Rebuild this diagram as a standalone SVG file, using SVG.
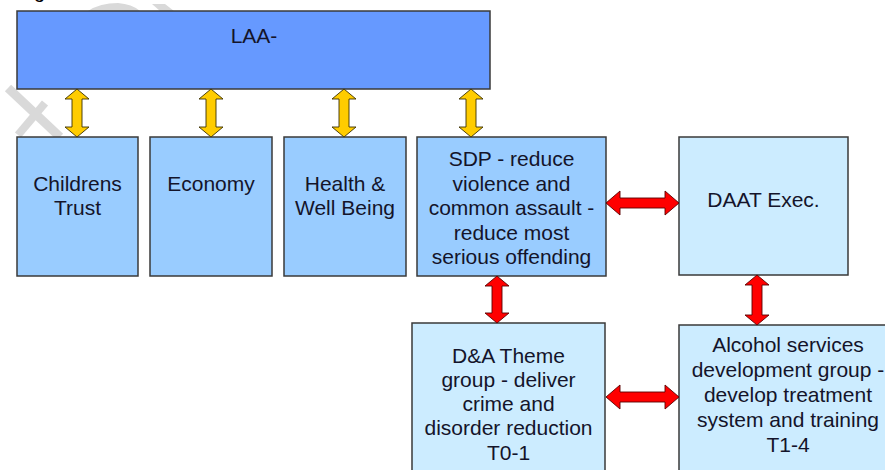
<svg xmlns="http://www.w3.org/2000/svg" width="885" height="470" viewBox="0 0 885 470">
  <style>
    .box { stroke: #3a3a3a; stroke-width: 1.5; }
    .dark { fill: #6699FF; }
    .mid { fill: #99CCFF; }
    .light { fill: #CCECFF; }
    .lbl { font-family: "Liberation Sans", Arial, sans-serif; font-size: 21px; fill: #14142a; text-anchor: middle; }
    .yarrow { fill: #FFCC00; stroke: #3a3000; stroke-width: 0.9; stroke-linejoin: miter; }
    .rarrow { fill: #FF0000; stroke: #5a0000; stroke-width: 0.9; stroke-linejoin: miter; }
    .wm { stroke: #d9d9d9; fill: none; stroke-linecap: butt; }
    .wmf { fill: #d9d9d9; }
  </style>
  <defs>
    <!-- vertical double-headed arrow, 48 long, tip at y=0 and y=48 -->
    <path id="vArrow48" d="M0,0 L12,10 L5,10 L5,38 L12,38 L0,48 L-12,38 L-5,38 L-5,10 L-12,10 Z"/>
  </defs>

  <rect width="885" height="470" fill="#ffffff"/>

  <!-- faint watermark strokes -->
  <g id="watermark">
    <line class="wm" x1="8" y1="88" x2="60" y2="137" stroke-width="9"/>
    <line class="wm" x1="45" y1="103" x2="18" y2="135" stroke-width="8"/>
    <path class="wmf" d="M88,11 Q100,3 118,3 Q132,4 140,11 Z"/>
    <path class="wmf" d="M152,4 L165,4 L174,11 L160,11 Z"/>
  </g>

  <!-- caption fragment at the top edge -->
  <text x="34" y="-2" font-family="Liberation Sans, Arial, sans-serif" font-size="20" fill="#000">g</text>

  <g id="laa">
    <rect class="box dark" x="17" y="11" width="473" height="78"/>
    <text class="lbl" x="254" y="43">LAA-</text>
  </g>

  <g id="childrens-trust">
    <rect class="box mid" x="17" y="137" width="121" height="139"/>
    <text class="lbl" x="77.5" y="191">Childrens</text>
    <text class="lbl" x="77.5" y="215">Trust</text>
  </g>

  <g id="economy">
    <rect class="box mid" x="150" y="137" width="122" height="139"/>
    <text class="lbl" x="211" y="191">Economy</text>
  </g>

  <g id="health">
    <rect class="box mid" x="284" y="137" width="122" height="139"/>
    <text class="lbl" x="345" y="191">Health &amp;</text>
    <text class="lbl" x="345" y="215">Well Being</text>
  </g>

  <g id="sdp">
    <rect class="box mid" x="417" y="137" width="189" height="139"/>
    <text class="lbl" x="511.5" y="166">SDP - reduce</text>
    <text class="lbl" x="511.5" y="191">violence and</text>
    <text class="lbl" x="511.5" y="215">common assault -</text>
    <text class="lbl" x="511.5" y="240">reduce most</text>
    <text class="lbl" x="511.5" y="264">serious offending</text>
  </g>

  <g id="daat">
    <rect class="box light" x="679" y="137" width="169" height="138"/>
    <text class="lbl" x="763.5" y="207">DAAT Exec.</text>
  </g>

  <g id="da-theme">
    <rect class="box light" x="412" y="323" width="193" height="160"/>
    <text class="lbl" x="508.5" y="363">D&amp;A Theme</text>
    <text class="lbl" x="508.5" y="387">group - deliver</text>
    <text class="lbl" x="508.5" y="411">crime and</text>
    <text class="lbl" x="508.5" y="435">disorder reduction</text>
    <text class="lbl" x="508.5" y="460">T0-1</text>
  </g>

  <g id="alcohol">
    <rect class="box light" x="679" y="325" width="218" height="160"/>
    <text class="lbl" x="788" y="352">Alcohol services</text>
    <text class="lbl" x="788" y="377">development group -</text>
    <text class="lbl" x="788" y="402">develop treatment</text>
    <text class="lbl" x="788" y="427">system and training</text>
    <text class="lbl" x="788" y="452">T1-4</text>
  </g>

  <g id="connectors">
    <!-- LAA to the four partnership groups -->
    <use href="#vArrow48" class="yarrow" x="77" y="89"/>
    <use href="#vArrow48" class="yarrow" x="211" y="89"/>
    <use href="#vArrow48" class="yarrow" x="344" y="89"/>
    <use href="#vArrow48" class="yarrow" x="471" y="89"/>

    <!-- SDP <-> DAAT Exec. -->
    <path class="rarrow" d="M606,203 L620,191 L620,198 L665,198 L665,191 L679,203 L665,215 L665,208 L620,208 L620,215 Z"/>
    <!-- SDP <-> D&A Theme group -->
    <path class="rarrow" d="M497,276 L509,286 L502,286 L502,313 L509,313 L497,323 L485,313 L492,313 L492,286 L485,286 Z"/>
    <!-- DAAT Exec. <-> Alcohol services -->
    <path class="rarrow" d="M757,275 L769,285 L762,285 L762,315 L769,315 L757,325 L745,315 L752,315 L752,285 L745,285 Z"/>
    <!-- D&A Theme group <-> Alcohol services -->
    <path class="rarrow" d="M606,397 L620,385 L620,392 L665,392 L665,385 L679,397 L665,409 L665,402 L620,402 L620,409 Z"/>
  </g>
</svg>
